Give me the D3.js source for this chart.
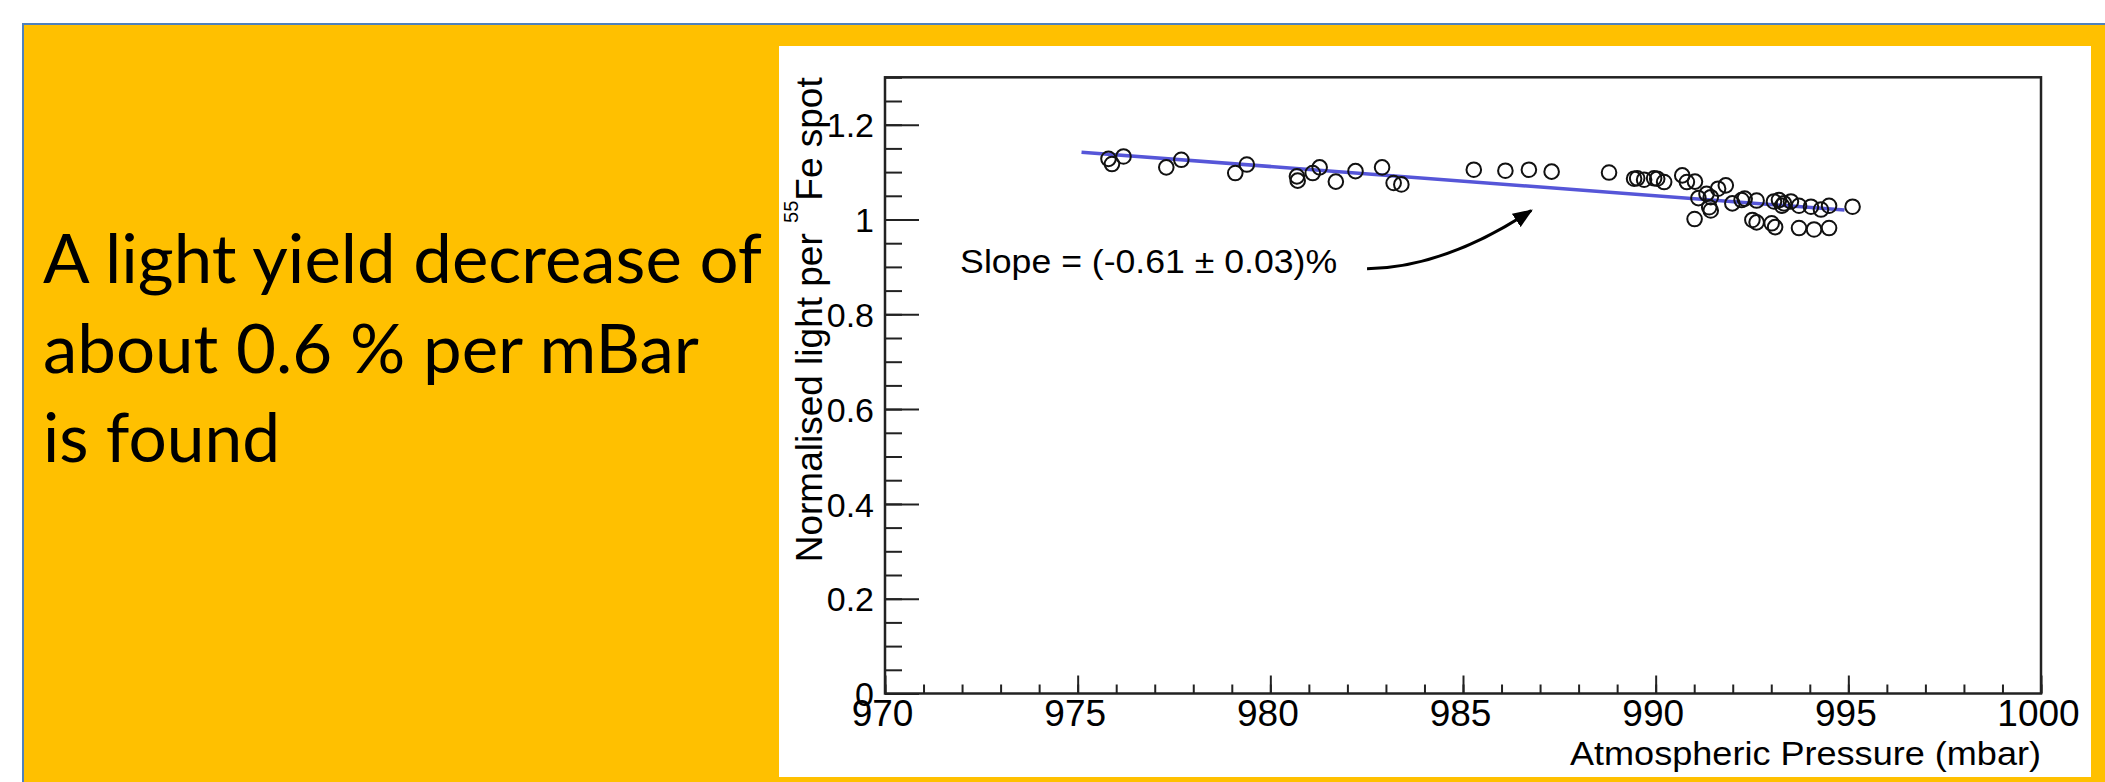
<!DOCTYPE html>
<html lang="en">
<head>
    <meta charset="UTF-8">
    <title>Light yield vs pressure</title>
    <style>
        body { margin: 0; background: #fff; }
    </style>
</head>
<body>
<script src="https://d3js.org/d3.v7.min.js"></script>

<div id="my_chart"></div>

<script type="text/javascript">

    // data
    var pressure = [975.80, 975.89, 976.19, 977.30, 977.69, 979.09, 979.39, 980.69, 980.71, 981.10,
        981.28, 981.70, 982.21, 982.90, 983.20, 983.40, 985.28, 986.10, 986.71, 987.30,
        988.79, 989.44, 989.52, 989.70, 989.96, 990.04, 990.22, 990.69, 990.81, 991.02,
        991.11, 991.32, 991.43, 991.39, 991.43, 991.62, 991.82, 991.01, 991.99, 992.23,
        992.31, 992.62, 992.51, 992.62, 993.01, 993.10, 993.07, 993.20, 993.33, 993.51,
        993.72, 993.72, 994.03, 994.11, 994.29, 994.50, 994.50, 995.11, 993.28];
    var lightYield = [1.128, 1.117, 1.133, 1.110, 1.126, 1.098, 1.116, 1.091, 1.082, 1.098,
        1.110, 1.080, 1.102, 1.110, 1.077, 1.074, 1.105, 1.103, 1.105, 1.101,
        1.099, 1.086, 1.087, 1.084, 1.087, 1.086, 1.079, 1.093, 1.079, 1.080,
        1.045, 1.054, 1.047, 1.026, 1.019, 1.065, 1.072, 1.001, 1.034, 1.041,
        1.044, 1.040, 0.999, 0.994, 0.992, 0.984, 1.038, 1.041, 1.034, 1.038,
        1.029, 0.982, 1.027, 0.979, 1.021, 1.029, 0.982, 1.027, 1.029];

    // linear fit end points
    var fitX = [975.1, 994.9];
    var fitY = [1.142, 1.020];

    var xMajorTicks = [970, 975, 980, 985, 990, 995, 1000];
    var yMajorTicks = [0, 0.2, 0.4, 0.6, 0.8, 1, 1.2];

    // arrow (start, control, end) in data units
    var arrowX = [982.51, 984.55, 986.77];
    var arrowY = [0.896, 0.899, 1.019];

    var slopeLabel = "Slope = (-0.61 \u00b1 0.03)%";
    var slideLines = ["A light yield decrease of", "about 0.6 % per mBar", "is found"];

    var W = 2105, H = 782;
    var frame = { left: 885, top: 77.3, right: 2041, bottom: 693.5 };
    var rootFont = "'Liberation Sans', Arial, Helvetica, sans-serif";

    var svg = d3
        .select("#my_chart")
        .append("svg")
        .attr("width", W)
        .attr("height", H)
        .style("display", "block");

    // slide background
    svg.append("rect").attr("x", 0).attr("y", 0).attr("width", W).attr("height", H).attr("fill", "#fff");
    svg.append("rect").attr("x", 23).attr("y", 24).attr("width", W - 23).attr("height", H - 24).attr("fill", "#FFC000");
    svg.append("path")
        .attr("d", "M23," + H + "V24H" + W)
        .attr("fill", "none")
        .attr("stroke", "#4f81bd")
        .attr("stroke-width", 2);

    // slide text
    var lineWidths = [719, 656, 237];
    svg.append("g")
        .selectAll("text")
        .data(slideLines)
        .enter()
        .append("text")
        .attr("x", 43)
        .attr("y", function(d, i) { return 283 + i * 89.5; })
        .attr("textLength", function(d, i) { return lineWidths[i]; })
        .attr("lengthAdjust", "spacingAndGlyphs")
        .style("font-family", "Lato, 'Open Sans', sans-serif")
        .style("font-size", "67px")
        .style("fill", "#000")
        .text(function(d) { return d; });

    // white picture of the plot
    svg.append("rect").attr("x", 779).attr("y", 46).attr("width", 2091 - 779).attr("height", 777 - 46).attr("fill", "#fff");

    var x = d3.scaleLinear().domain([970, 1000]).range([frame.left, frame.right]);
    var y = d3.scaleLinear().domain([0, 1.3]).range([frame.bottom, frame.top]);

    // minor ticks
    svg.append("g")
        .attr("transform", "translate(0," + frame.bottom + ")")
        .call(d3.axisBottom(x).tickValues(d3.range(970, 1001, 1)).tickSize(-9).tickFormat(""))
        .call(function(g) { g.select(".domain").remove(); });
    svg.append("g")
        .attr("transform", "translate(" + frame.left + ",0)")
        .call(d3.axisLeft(y).tickValues(d3.range(0, 1.3001, 0.05)).tickSize(-17).tickFormat(""))
        .call(function(g) { g.select(".domain").remove(); });

    // major ticks + labels
    var xAxis = svg.append("g")
        .attr("transform", "translate(0," + frame.bottom + ")")
        .call(d3.axisBottom(x).tickValues(xMajorTicks).tickSize(-18).tickPadding(6).tickFormat(d3.format("d")));
    xAxis.select(".domain").remove();
    xAxis.selectAll("text")
        .style("font-family", rootFont)
        .style("font-size", "37px")
        .attr("transform", "translate(-3,0)");

    var yAxis = svg.append("g")
        .attr("transform", "translate(" + frame.left + ",0)")
        .call(d3.axisLeft(y).tickValues(yMajorTicks).tickSize(-34).tickPadding(11).tickFormat(d3.format("~g")));
    yAxis.select(".domain").remove();
    yAxis.selectAll("text")
        .style("font-family", rootFont)
        .style("font-size", "34px")
        .attr("dy", "0.36em");

    svg.selectAll(".tick line").attr("stroke", "#222").attr("stroke-width", 2);
    svg.selectAll(".tick text").attr("fill", "#000");

    // frame
    svg.append("rect")
        .attr("x", frame.left)
        .attr("y", frame.top)
        .attr("width", frame.right - frame.left)
        .attr("height", frame.bottom - frame.top)
        .attr("fill", "none")
        .attr("stroke", "#222")
        .attr("stroke-width", 2.5);

    // axis titles
    svg.append("text")
        .attr("x", frame.right)
        .attr("y", 765)
        .attr("text-anchor", "end")
        .attr("textLength", 471)
        .attr("lengthAdjust", "spacingAndGlyphs")
        .style("font-family", rootFont)
        .style("font-size", "33px")
        .text("Atmospheric Pressure (mbar)");

    var yTitle = svg.append("text")
        .attr("transform", "translate(821.7," + frame.top + ") rotate(-90)")
        .attr("text-anchor", "end")
        .style("font-family", rootFont)
        .style("font-size", "37px");
    yTitle.append("tspan").text("Normalised light per ");
    yTitle.append("tspan").attr("dy", -24).style("font-size", "20px").text("55");
    yTitle.append("tspan").attr("dy", 24).text("Fe spot");

    // fit line
    var fitData = d3.zip(fitX, fitY);
    svg.append("path")
        .datum(fitData)
        .attr("d", d3.line().x(function(d) { return x(d[0]); }).y(function(d) { return y(d[1]); }))
        .attr("fill", "none")
        .attr("stroke", "#5656d8")
        .attr("stroke-width", 3.5);

    // data points
    var points = d3.zip(pressure, lightYield);
    svg.append("g")
        .selectAll("circle")
        .data(points)
        .enter()
        .append("circle")
        .attr("cx", function(d) { return x(d[0]); })
        .attr("cy", function(d) { return y(d[1]); })
        .attr("r", 7.3)
        .attr("fill", "none")
        .attr("stroke", "#111")
        .attr("stroke-width", 2);

    // slope label + arrow
    svg.append("text")
        .attr("x", x(971.95))
        .attr("y", y(0.888))
        .attr("textLength", 377)
        .attr("lengthAdjust", "spacingAndGlyphs")
        .style("font-family", rootFont)
        .style("font-size", "34px")
        .text(slopeLabel);

    svg.append("defs")
        .append("marker")
        .attr("id", "head")
        .attr("markerUnits", "userSpaceOnUse")
        .attr("viewBox", "0 0 20 16")
        .attr("refX", 18)
        .attr("refY", 8)
        .attr("markerWidth", 20)
        .attr("markerHeight", 16)
        .attr("orient", "auto")
        .append("path")
        .attr("d", "M0,0L20,8L0,16Z")
        .attr("fill", "#000");

    var arrow = d3.path();
    arrow.moveTo(x(arrowX[0]), y(arrowY[0]));
    arrow.quadraticCurveTo(x(arrowX[1]), y(arrowY[1]), x(arrowX[2]), y(arrowY[2]));
    svg.append("path")
        .attr("d", arrow.toString())
        .attr("fill", "none")
        .attr("stroke", "#000")
        .attr("stroke-width", 3)
        .attr("marker-end", "url(#head)");

</script>
</body>
</html>
